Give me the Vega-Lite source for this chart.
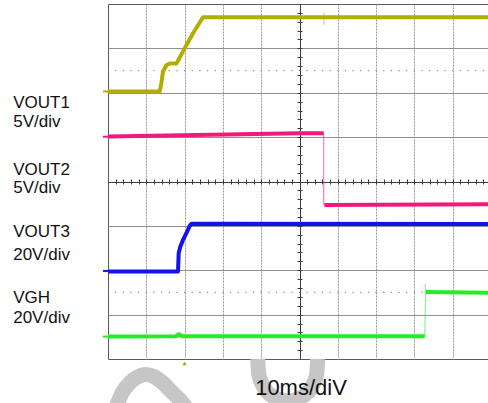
{
  "$schema": "https://vega.github.io/schema/vega-lite/v6.json",
  "width": 383,
  "height": 355,
  "autosize": {"type": "none"},
  "padding": {"left": 108, "top": 4, "right": 0, "bottom": 44},
  "background": "white",
  "config": {
    "view": {"stroke": "#5a5a5a", "strokeWidth": 1},
    "font": "Liberation Sans"
  },
  "datasets": {
    "traces": [
      {"ch": "VOUT1", "seg": "a", "t": -50, "v": 2.03},
      {"ch": "VOUT1", "seg": "a", "t": -36.5, "v": 2.03},
      {"ch": "VOUT1", "seg": "a", "t": -36.1, "v": 2.2},
      {"ch": "VOUT1", "seg": "a", "t": -35.65, "v": 2.47},
      {"ch": "VOUT1", "seg": "a", "t": -34.75, "v": 2.62},
      {"ch": "VOUT1", "seg": "a", "t": -33.9, "v": 2.66},
      {"ch": "VOUT1", "seg": "a", "t": -32.15, "v": 2.66},
      {"ch": "VOUT1", "seg": "a", "t": -31.8, "v": 2.71},
      {"ch": "VOUT1", "seg": "a", "t": -30.0, "v": 3.0},
      {"ch": "VOUT1", "seg": "a", "t": -27.8, "v": 3.34},
      {"ch": "VOUT1", "seg": "a", "t": -25.2, "v": 3.7},
      {"ch": "VOUT1", "seg": "a", "t": 50, "v": 3.7},
      {"ch": "VOUT2", "seg": "a", "t": -50, "v": 1.012},
      {"ch": "VOUT2", "seg": "a", "t": 0, "v": 1.085},
      {"ch": "VOUT2", "seg": "a", "t": 6.32, "v": 1.09},
      {"ch": "VOUT2", "seg": "b", "t": 6.5, "v": -0.53},
      {"ch": "VOUT2", "seg": "b", "t": 50, "v": -0.515},
      {"ch": "VOUT3", "seg": "a", "t": -50, "v": -2.026},
      {"ch": "VOUT3", "seg": "a", "t": -31.72, "v": -2.026},
      {"ch": "VOUT3", "seg": "a", "t": -31.54, "v": -1.609},
      {"ch": "VOUT3", "seg": "a", "t": -31.1, "v": -1.463},
      {"ch": "VOUT3", "seg": "a", "t": -30.42, "v": -1.316},
      {"ch": "VOUT3", "seg": "a", "t": -29.53, "v": -1.165},
      {"ch": "VOUT3", "seg": "a", "t": -28.67, "v": -1.0},
      {"ch": "VOUT3", "seg": "a", "t": -28.15, "v": -0.951},
      {"ch": "VOUT3", "seg": "a", "t": 50, "v": -0.955},
      {"ch": "VGH", "seg": "a", "t": -50, "v": -3.495},
      {"ch": "VGH", "seg": "a", "t": -32.3, "v": -3.49},
      {"ch": "VGH", "seg": "a", "t": -31.5, "v": -3.44},
      {"ch": "VGH", "seg": "a", "t": -30.7, "v": -3.485},
      {"ch": "VGH", "seg": "a", "t": 32.7, "v": -3.49},
      {"ch": "VGH", "seg": "b", "t": 32.95, "v": -2.49},
      {"ch": "VGH", "seg": "b", "t": 50, "v": -2.505}
    ],
    "edges": [
      {"ch": "VOUT1", "t": 6.35, "v": 3.53},
      {"ch": "VOUT1", "t": 6.36, "v": 3.8},
      {"ch": "VOUT2", "t": 6.3, "v": 1.09},
      {"ch": "VOUT2", "t": 6.32, "v": -0.53},
      {"ch": "VGH", "t": 32.7, "v": -3.49},
      {"ch": "VGH", "t": 32.75, "v": -2.31},
      {"ch": "VGH", "t": 32.95, "v": -2.49}
    ],
    "grounds": [
      {"ch": "VOUT1", "v": 2.03},
      {"ch": "VOUT2", "v": 1.01},
      {"ch": "VOUT3", "v": -2.015},
      {"ch": "VGH", "v": -3.495}
    ],
    "labels": [
      {"text": "VOUT1", "v": 1.652},
      {"text": "5V/div", "v": 1.224},
      {"text": "VOUT2", "v": 0.149},
      {"text": "5V/div", "v": -0.25},
      {"text": "VOUT3", "v": -1.242},
      {"text": "20V/div", "v": -1.767},
      {"text": "VGH", "v": -2.743},
      {"text": "20V/div", "v": -3.193}
    ],
    "timebase": [{"text": "10ms/diV"}],
    "halfdiv": [{"v": 2.5}, {"v": -2.5}],
    "trigger": [{"t": -30}],
    "watermark": [
      {"piece": "arch", "i": 0, "t": -48.25, "v": -5.147},
      {"piece": "arch", "i": 1, "t": -47.47, "v": -4.989},
      {"piece": "arch", "i": 2, "t": -46.16, "v": -4.741},
      {"piece": "arch", "i": 3, "t": -44.07, "v": -4.516},
      {"piece": "arch", "i": 4, "t": -42.25, "v": -4.403},
      {"piece": "arch", "i": 5, "t": -40.16, "v": -4.347},
      {"piece": "arch", "i": 6, "t": -38.07, "v": -4.392},
      {"piece": "arch", "i": 7, "t": -35.98, "v": -4.516},
      {"piece": "arch", "i": 8, "t": -33.37, "v": -4.741},
      {"piece": "arch", "i": 9, "t": -30.76, "v": -4.966},
      {"piece": "arch", "i": 10, "t": -29.19, "v": -5.147},
      {"piece": "bowl", "i": 0, "t": -10.91, "v": -4.0},
      {"piece": "bowl", "i": 1, "t": -10.65, "v": -4.338},
      {"piece": "bowl", "i": 2, "t": -9.35, "v": -4.631},
      {"piece": "bowl", "i": 3, "t": -6.74, "v": -4.856},
      {"piece": "bowl", "i": 4, "t": -3.09, "v": -4.946},
      {"piece": "bowl", "i": 5, "t": 0.57, "v": -4.856},
      {"piece": "bowl", "i": 6, "t": 3.18, "v": -4.631},
      {"piece": "bowl", "i": 7, "t": 4.49, "v": -4.338},
      {"piece": "bowl", "i": 8, "t": 4.75, "v": -4.0}
    ]
  },
  "layer": [
    {
      "data": {"name": "watermark"},
      "mark": {"type": "line", "color": "#c6c6c6", "strokeWidth": 15, "strokeCap": "butt", "interpolate": "monotone", "clip": false},
      "encoding": {
        "x": {"field": "t", "type": "quantitative", "scale": {"domain": [-50, 50], "nice": false, "zero": false}, "axis": null},
        "y": {"field": "v", "type": "quantitative", "scale": {"domain": [-4, 4], "nice": false, "zero": false}, "axis": null},
        "detail": {"field": "piece"},
        "order": {"field": "i", "type": "quantitative"}
      }
    },
    {
      "data": {"name": "halfdiv"},
      "mark": {"type": "rule", "color": "#8c8c8c", "strokeWidth": 1.2, "strokeDash": [1.2, 6.46], "strokeDashOffset": 0.6},
      "encoding": {
        "y": {"field": "v", "type": "quantitative", "scale": {"domain": [-4, 4], "nice": false, "zero": false}, "axis": null}
      }
    },
    {
      "data": {"name": "traces"},
      "mark": {"type": "line", "strokeWidth": 4, "strokeJoin": "round", "strokeCap": "butt"},
      "encoding": {
        "x": {
          "field": "t", "type": "quantitative",
          "scale": {"domain": [-50, 50], "nice": false, "zero": false},
          "axis": {
            "orient": "bottom",
            "values": [-40, -30, -20, -10, 0, 10, 20, 30, 40],
            "grid": true,
            "gridColor": {"condition": {"test": "datum.value === 0", "value": "#3c3c3c"}, "value": "#9a9a9a"},
            "gridDash": {"condition": {"test": "datum.value === 0", "value": []}, "value": [2, 1]},
            "ticks": false, "labels": false, "domain": false, "title": null
          }
        },
        "y": {
          "field": "v", "type": "quantitative",
          "scale": {"domain": [-4, 4], "nice": false, "zero": false},
          "axis": {
            "orient": "left",
            "values": [-3, -2, -1, 0, 1, 2, 3],
            "grid": true,
            "gridColor": {"condition": {"test": "datum.value === 0", "value": "#3c3c3c"}, "value": "#8f8f8f"},
            "ticks": false, "labels": false, "domain": false, "title": null
          }
        },
        "color": {
          "field": "ch", "type": "nominal",
          "scale": {"domain": ["VOUT1", "VOUT2", "VOUT3", "VGH"], "range": ["#b3ad00", "#ef1a7c", "#1212ea", "#26ec26"]},
          "legend": null
        },
        "detail": {"field": "seg"},
        "order": {"field": "t", "type": "quantitative"}
      }
    },
    {
      "data": {"name": "edges"},
      "mark": {"type": "line", "strokeWidth": 1.2, "opacity": 0.55},
      "encoding": {
        "x": {"field": "t", "type": "quantitative", "scale": {"domain": [-50, 50], "nice": false, "zero": false}, "axis": null},
        "y": {"field": "v", "type": "quantitative", "scale": {"domain": [-4, 4], "nice": false, "zero": false}, "axis": null},
        "color": {"field": "ch", "type": "nominal", "legend": null},
        "order": {"field": "v", "type": "quantitative"}
      }
    },
    {
      "data": {"name": "grounds"},
      "mark": {"type": "tick", "orient": "horizontal", "size": 7, "thickness": 2, "xOffset": -1.5, "opacity": 1},
      "encoding": {
        "x": {"datum": -50, "type": "quantitative", "scale": {"domain": [-50, 50], "nice": false, "zero": false}, "axis": null},
        "y": {"field": "v", "type": "quantitative", "scale": {"domain": [-4, 4], "nice": false, "zero": false}, "axis": null},
        "color": {"field": "ch", "type": "nominal", "legend": null}
      }
    },
    {
      "data": {"name": "trigger"},
      "mark": {"type": "point", "shape": "triangle-up", "size": 18, "filled": true, "color": "#b3a400", "opacity": 1, "yOffset": 4.5},
      "encoding": {
        "x": {
          "field": "t", "type": "quantitative",
          "scale": {"domain": [-50, 50], "nice": false, "zero": false},
          "axis": {
            "orient": "bottom", "offset": -180,
            "values": [-48, -46, -44, -42, -40, -38, -36, -34, -32, -30, -28, -26, -24, -22, -20, -18, -16, -14, -12, -10, -8, -6, -4, -2, 2, 4, 6, 8, 10, 12, 14, 16, 18, 20, 22, 24, 26, 28, 30, 32, 34, 36, 38, 40, 42, 44, 46, 48],
            "grid": false, "domain": false, "labels": false,
            "ticks": true, "tickSize": 5, "tickColor": "#3c3c3c", "tickWidth": 1,
            "title": null
          }
        },
        "y": {
          "datum": -4, "type": "quantitative",
          "scale": {"domain": [-4, 4], "nice": false, "zero": false},
          "axis": {
            "orient": "left", "offset": -194,
            "values": [-3.8, -3.6, -3.4, -3.2, -3.0, -2.8, -2.6, -2.4, -2.2, -2.0, -1.8, -1.6, -1.4, -1.2, -1.0, -0.8, -0.6, -0.4, -0.2, 0.2, 0.4, 0.6, 0.8, 1.0, 1.2, 1.4, 1.6, 1.8, 2.0, 2.2, 2.4, 2.6, 2.8, 3.0, 3.2, 3.4, 3.6, 3.8],
            "grid": false, "domain": false, "labels": false,
            "ticks": true, "tickSize": 5, "tickColor": "#3c3c3c", "tickWidth": 1,
            "title": null
          }
        }
      }
    },
    {
      "data": {"name": "labels"},
      "mark": {"type": "text", "align": "left", "baseline": "alphabetic", "font": "Liberation Sans", "fontSize": 17, "color": "#111111"},
      "encoding": {
        "x": {"datum": -74.75, "type": "quantitative", "scale": {"domain": [-50, 50], "nice": false, "zero": false}, "axis": null},
        "y": {"field": "v", "type": "quantitative", "scale": {"domain": [-4, 4], "nice": false, "zero": false}, "axis": null},
        "text": {"field": "text"}
      }
    },
    {
      "data": {"name": "timebase"},
      "mark": {"type": "text", "align": "center", "baseline": "alphabetic", "font": "Liberation Sans", "fontSize": 22, "color": "#111111", "dx": 1.5, "dy": 36},
      "encoding": {
        "x": {"datum": 0, "type": "quantitative", "scale": {"domain": [-50, 50], "nice": false, "zero": false}, "axis": null},
        "y": {"datum": -4, "type": "quantitative", "scale": {"domain": [-4, 4], "nice": false, "zero": false}, "axis": null},
        "text": {"field": "text"}
      }
    }
  ],
  "resolve": {"axis": {"x": "independent", "y": "independent"}}
}
